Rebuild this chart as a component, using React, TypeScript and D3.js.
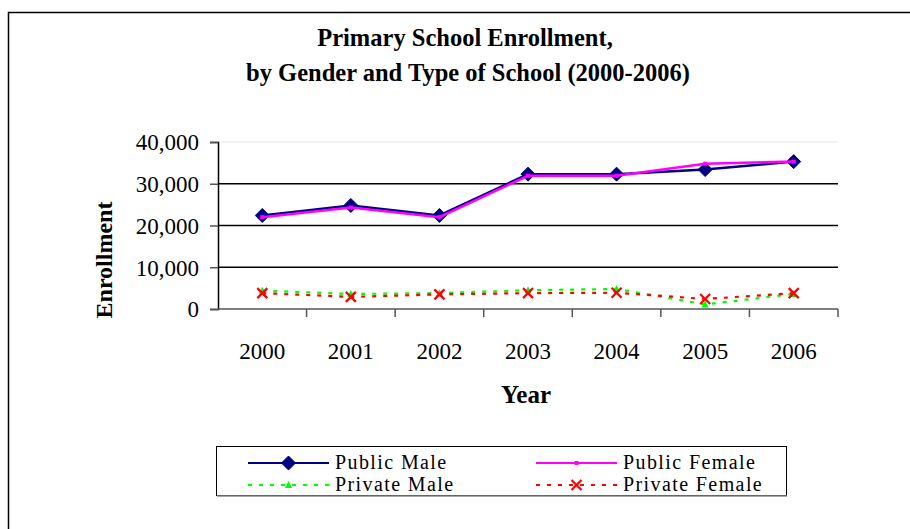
import React, { useEffect, useRef } from 'react';
import * as d3 from 'd3';

const years = ['2000', '2001', '2002', '2003', '2004', '2005', '2006'];
const publicMale = [22400, 24800, 22400, 32300, 32300, 33400, 35300];
const publicFemale = [22000, 24300, 22000, 31900, 31900, 34800, 35300];
const privateMale = [4400, 3600, 3800, 4500, 4800, 1100, 3600];
const privateFemale = [3800, 2900, 3500, 3800, 3900, 2400, 3800];
const yTicks = [0, 10000, 20000, 30000, 40000];

const SERIF = "'Liberation Serif', 'Times New Roman', serif";

const App: React.FC = () => {
  const svgRef = useRef<SVGSVGElement>(null);

  useEffect(() => {
    if (!svgRef.current) return;
    const svg = d3.select(svgRef.current);
    svg.selectAll('*').remove();

    // outer frame (runs off the right and bottom)
    svg.append('rect')
      .attr('x', 8.5).attr('y', 12.5)
      .attr('width', 960).attr('height', 600)
      .attr('fill', 'white').attr('stroke', 'black').attr('stroke-width', 1.5);

    // title
    const title = svg.append('text')
      .attr('text-anchor', 'middle')
      .style('font-family', SERIF)
      .style('font-weight', 'bold')
      .style('font-size', '24.5px');
    title.append('tspan').attr('x', 465).attr('y', 46).text('Primary School Enrollment,');
    title.append('tspan').attr('x', 468).attr('y', 81).text('by Gender and Type of School (2000-2006)');

    const x = d3.scaleBand().domain(years).range([218, 838]);
    const y = d3.scaleLinear().domain([0, 40000]).range([309, 142]);
    const cx = (d: string) => (x(d) || 0) + x.bandwidth() / 2;

    // gridlines
    svg.append('g')
      .selectAll('line')
      .data(yTicks.filter((t) => t > 0))
      .enter()
      .append('line')
      .attr('x1', 218).attr('x2', 838)
      .attr('y1', (d) => y(d)).attr('y2', (d) => y(d))
      .attr('stroke', (d) => (d === 40000 ? '#eeeeee' : '#000'))
      .attr('stroke-width', 1.5);

    // y axis
    const yAxis = svg.append('g')
      .attr('transform', 'translate(218,0)')
      .call(
        d3.axisLeft(y)
          .tickValues(yTicks)
          .tickSize(8)
          .tickPadding(11)
          .tickFormat((d) => d3.format(',')(d as number))
      );
    yAxis.select('.domain').attr('stroke', '#000').attr('stroke-width', 1.5);
    yAxis.selectAll('.tick line').attr('stroke', '#555').attr('stroke-width', 1.5);
    yAxis.selectAll('.tick text')
      .style('font-family', SERIF)
      .style('font-size', '23px')
      .attr('fill', '#000')
      .attr('dy', '0.34em');

    // x axis
    svg.append('line')
      .attr('x1', 218).attr('x2', 838)
      .attr('y1', 309).attr('y2', 309)
      .attr('stroke', '#555').attr('stroke-width', 1.5);
    svg.append('g')
      .selectAll('line')
      .data(years)
      .enter()
      .append('line')
      .attr('x1', (d) => (x(d) || 0) + x.bandwidth())
      .attr('x2', (d) => (x(d) || 0) + x.bandwidth())
      .attr('y1', 309).attr('y2', 317)
      .attr('stroke', '#555').attr('stroke-width', 1.5);
    svg.append('g')
      .selectAll('text')
      .data(years)
      .enter()
      .append('text')
      .attr('x', (d) => cx(d))
      .attr('y', 359)
      .attr('text-anchor', 'middle')
      .style('font-family', SERIF)
      .style('font-size', '23px')
      .text((d) => d);

    // axis titles
    svg.append('text')
      .attr('x', 526).attr('y', 403)
      .attr('text-anchor', 'middle')
      .style('font-family', SERIF)
      .style('font-weight', 'bold')
      .style('font-size', '25px')
      .text('Year');
    svg.append('text')
      .attr('transform', 'translate(112,260) rotate(-90)')
      .attr('text-anchor', 'middle')
      .style('font-family', SERIF)
      .style('font-weight', 'bold')
      .style('font-size', '24px')
      .text('Enrollment');

    const line = d3.line<number>()
      .x((_, i) => cx(years[i]))
      .y((d) => y(d));

    const series = [
      { name: 'Public Male', values: publicMale, color: '#000080', dash: null, marker: 'diamond' },
      { name: 'Public Female', values: publicFemale, color: '#FF00FF', dash: null, marker: 'square' },
      { name: 'Private Male', values: privateMale, color: '#00FF00', dash: '4,7', marker: 'triangle' },
      { name: 'Private Female', values: privateFemale, color: '#FF0000', dash: '4,7', marker: 'cross' },
    ];

    const drawMarker = (g: d3.Selection<SVGGElement, unknown, null, undefined>, kind: string, color: string, px: number, py: number) => {
      if (kind === 'diamond') {
        g.append('path')
          .attr('d', `M${px},${py - 7}L${px + 7},${py}L${px},${py + 7}L${px - 7},${py}Z`)
          .attr('fill', color).attr('stroke', color);
      } else if (kind === 'square') {
        g.append('rect')
          .attr('x', px - 2).attr('y', py - 2).attr('width', 4).attr('height', 4)
          .attr('fill', color);
      } else if (kind === 'triangle') {
        g.append('path')
          .attr('d', `M${px},${py - 4}L${px + 3.5},${py + 3}L${px - 3.5},${py + 3}Z`)
          .attr('fill', color);
      } else {
        g.append('path')
          .attr('d', `M${px - 5},${py - 5}L${px + 5},${py + 5}M${px + 5},${py - 5}L${px - 5},${py + 5}`)
          .attr('stroke', color).attr('stroke-width', 2.2).attr('fill', 'none');
      }
    };

    series.forEach((s) => {
      const g = svg.append('g');
      g.append('path')
        .datum(s.values)
        .attr('d', line)
        .attr('fill', 'none')
        .attr('stroke', s.color)
        .attr('stroke-width', s.dash ? 2.2 : 2.5)
        .attr('stroke-dasharray', s.dash);
      s.values.forEach((v, i) => drawMarker(g, s.marker, s.color, cx(years[i]), y(v)));
    });

    // legend
    const lg = svg.append('g');
    lg.append('rect')
      .attr('x', 216.5).attr('y', 446.5).attr('width', 570).attr('height', 49)
      .attr('fill', 'white').attr('stroke', '#000').attr('stroke-width', 1);
    lg.append('line')
      .attr('x1', 217).attr('x2', 787).attr('y1', 496).attr('y2', 496)
      .attr('stroke', '#888').attr('stroke-width', 1.5);
    series.forEach((s, i) => {
      const lx = i % 2 === 0 ? 248 : 536;
      const ly = i < 2 ? 463 : 485;
      lg.append('line')
        .attr('x1', lx).attr('x2', lx + 81)
        .attr('y1', ly).attr('y2', ly)
        .attr('stroke', s.color)
        .attr('stroke-width', s.dash ? 2.2 : 2)
        .attr('stroke-dasharray', s.dash);
      drawMarker(lg, s.marker, s.color, lx + 40.5, ly);
      lg.append('text')
        .attr('x', lx + 87).attr('y', ly + 6)
        .style('font-family', SERIF)
        .style('font-size', '20px')
        .style('letter-spacing', '1.4px')
        .text(s.name);
    });
  }, []);

  return (
    <svg
      ref={svgRef}
      width={910}
      height={529}
      style={{ position: 'absolute', left: 0, top: 0, display: 'block', background: 'white' }}
    />
  );
};

export default App;
